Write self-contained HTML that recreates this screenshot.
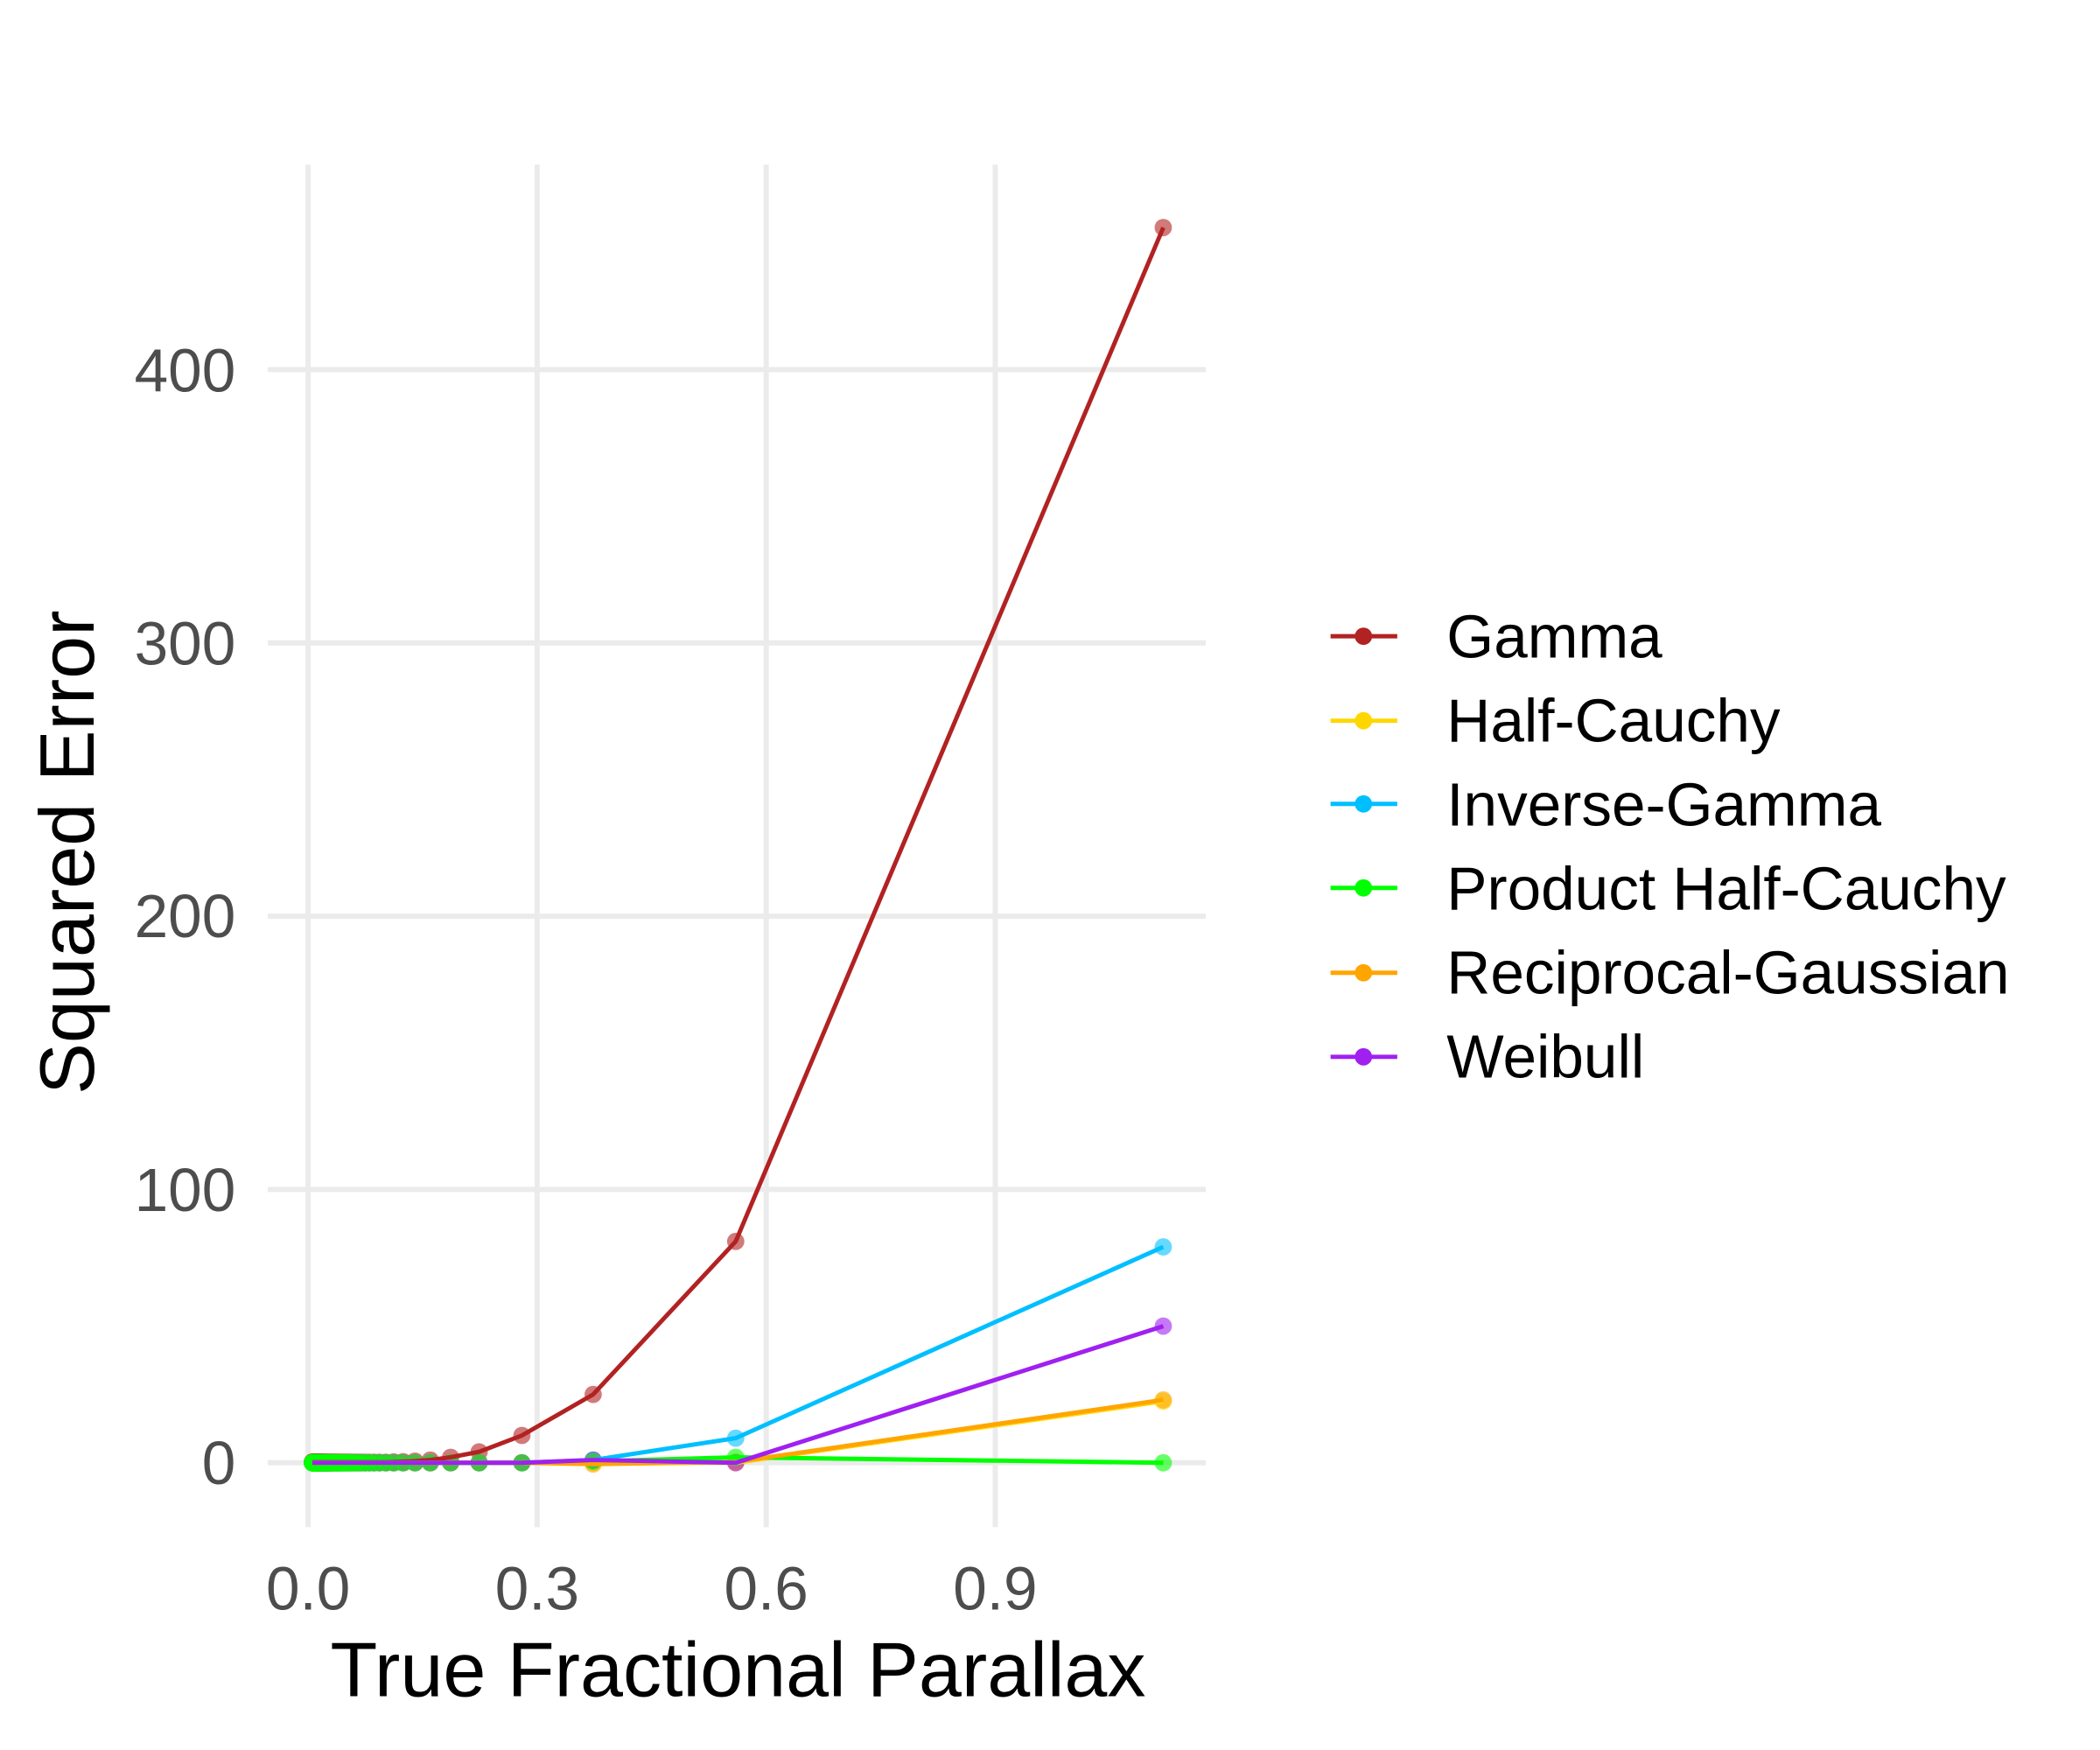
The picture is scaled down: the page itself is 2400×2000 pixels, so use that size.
<!DOCTYPE html>
<html><head><meta charset="utf-8"><style>
html,body{margin:0;padding:0;background:#fff;}
svg{display:block;}
</style></head><body>
<svg id="s" width="2400" height="2000" viewBox="0 0 2400 2000" xmlns="http://www.w3.org/2000/svg" font-family="Liberation Sans, sans-serif">
<rect width="2400" height="2000" fill="#fff"/>
<g transform="scale(0.99)">
<g stroke="#ebebeb" stroke-width="6">
<line x1="309" x2="1392" y1="1688.6" y2="1688.6"/>
<line x1="309" x2="1392" y1="1373.1" y2="1373.1"/>
<line x1="309" x2="1392" y1="1057.7" y2="1057.7"/>
<line x1="309" x2="1392" y1="742.2" y2="742.2"/>
<line x1="309" x2="1392" y1="426.7" y2="426.7"/>
<line x1="355.7" x2="355.7" y1="190" y2="1763"/>
<line x1="620.1" x2="620.1" y1="190" y2="1763"/>
<line x1="884.5" x2="884.5" y1="190" y2="1763"/>
<line x1="1148.9" x2="1148.9" y1="190" y2="1763"/>
</g>
<g fill="#4d4d4d" font-size="70" text-anchor="end">
<text x="272" y="1713">0</text>
<text x="272" y="1398">100</text>
<text x="272" y="1082">200</text>
<text x="272" y="767">300</text>
<text x="272" y="452">400</text>
</g>
<g fill="#4d4d4d" font-size="70" text-anchor="middle">
<text x="355.7" y="1858">0.0</text>
<text x="620.1" y="1858">0.3</text>
<text x="884.5" y="1858">0.6</text>
<text x="1148.9" y="1858">0.9</text>
</g>
<text x="852" y="1958" font-size="89" text-anchor="middle" fill="#000">True Fractional Parallax</text>
<text transform="translate(108,984) rotate(-90)" font-size="89" text-anchor="middle" fill="#000">Squared Error</text>
<g id="pts"></g>
<g id="gpts"></g>
<g id="series"></g>
<g font-size="70" fill="#000">
<text x="1670" y="759">Gamma</text>
<text x="1670" y="856">Half-Cauchy</text>
<text x="1670" y="953">Inverse-Gamma</text>
<text x="1670" y="1050">Product Half-Cauchy</text>
<text x="1670" y="1147">Reciprocal-Gaussian</text>
<text x="1670" y="1244">Weibull</text>
</g>
<g id="legend"></g>
</g>
</svg>
<script>
(function(){
var NS="http://www.w3.org/2000/svg";
function px(x){return 355.7+x*881.4;}
function py(v){return 1688.6-v*3.1547;}
var N=200;
function mk(f){var a=[];for(var k=1;k<=N;k++)a.push([1.12/k,f(k)]);return a;}
var series=[
["#b22222",mk(function(k){var g=[452,81,25,10,4,2,1,0.6,0.4,0.3];return k<=10?g[k-1]:0.2;})],
["#ffd700",mk(function(k){return k==1?22.5:0;})],
["#00bfff",mk(function(k){return k==1?79:k==2?9:k==3?1:0;})],
["#00ff00",mk(function(k){return k==1?0:k==2?2:k==3?0.5:0;})],
["#ffa500",mk(function(k){return k==1?23:k==2?0.3:k==3?-0.5:0;})],
["#a020f0",mk(function(k){return k==1?50:k==2?0:k==3?1:0;})]
];
var g=document.getElementById("series"),P=document.getElementById("pts"),G=document.getElementById("gpts");
series.forEach(function(s,si){
 var d="";s[1].forEach(function(p,i){d+=(i?"L":"M")+px(p[0]).toFixed(1)+" "+py(p[1]).toFixed(1);});
 var path=document.createElementNS(NS,"path");path.setAttribute("d",d);path.setAttribute("fill","none");
 path.setAttribute("stroke",s[0]);path.setAttribute("stroke-width","5");g.appendChild(path);
 s[1].forEach(function(p){var c=document.createElementNS(NS,"circle");c.setAttribute("cx",px(p[0]));c.setAttribute("cy",py(p[1]));
 c.setAttribute("r","10");c.setAttribute("fill",s[0]);c.setAttribute("fill-opacity","0.6");(si==3?G:P).appendChild(c);});
});
var L=document.getElementById("legend");var ys=[734.5,832,928,1025,1123,1220];
series.forEach(function(s,i){
 var l=document.createElementNS(NS,"line");l.setAttribute("x1",1536);l.setAttribute("x2",1613);l.setAttribute("y1",ys[i]);l.setAttribute("y2",ys[i]);
 l.setAttribute("stroke",s[0]);l.setAttribute("stroke-width","5");L.appendChild(l);
 var c=document.createElementNS(NS,"circle");c.setAttribute("cx",1574);c.setAttribute("cy",ys[i]);c.setAttribute("r","10");c.setAttribute("fill",s[0]);L.appendChild(c);
});
})();
</script>
</body></html>
